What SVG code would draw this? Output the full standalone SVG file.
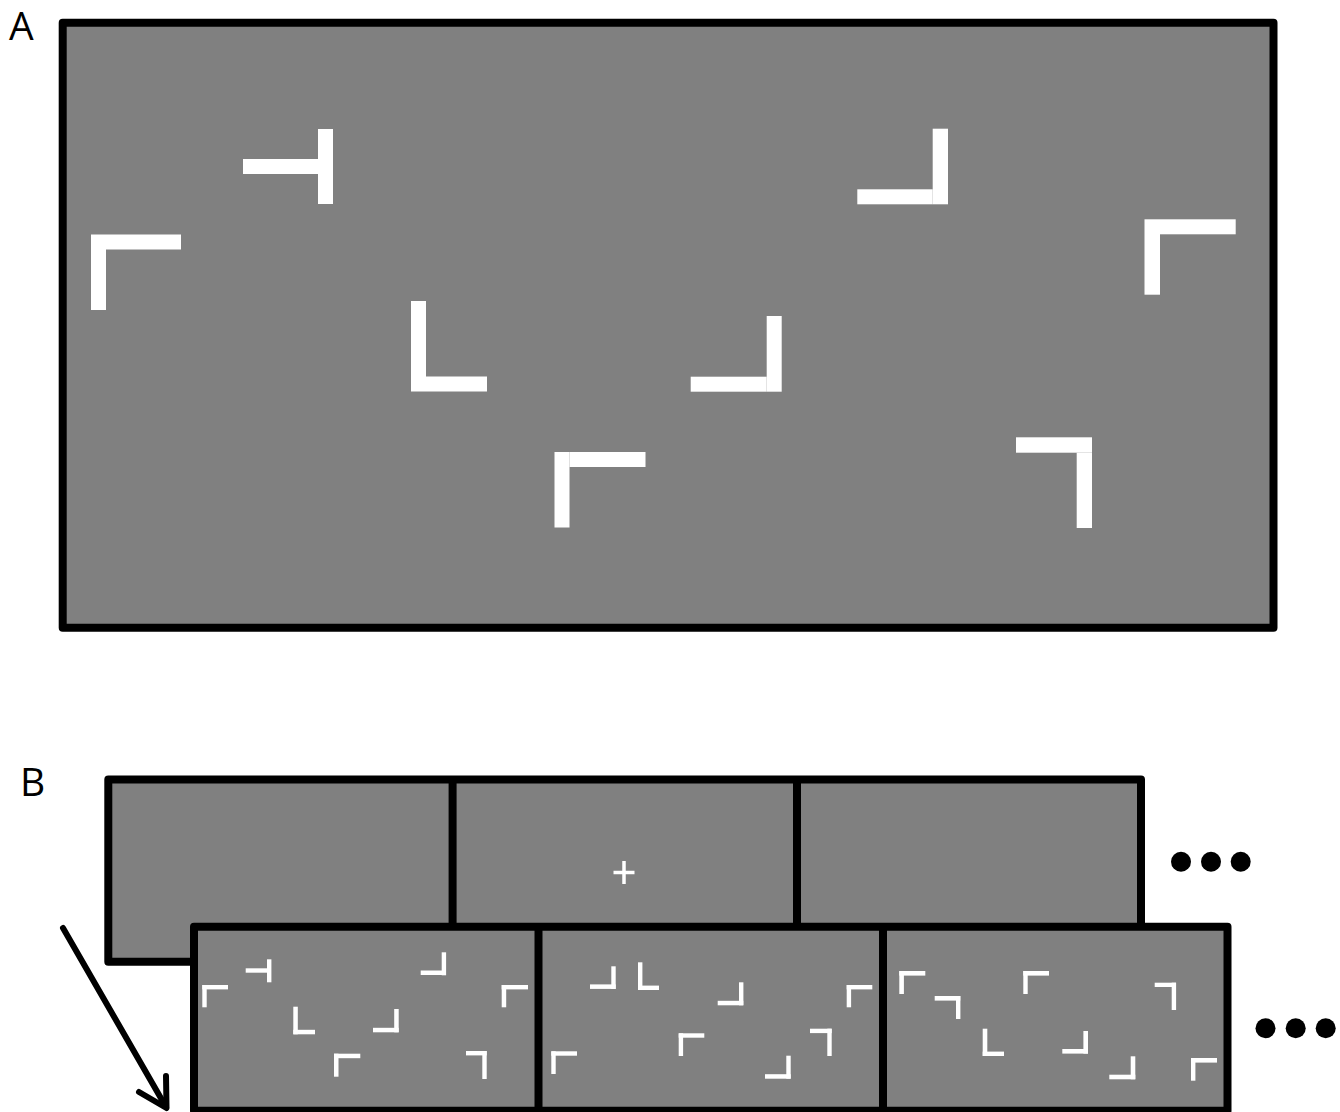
<svg xmlns="http://www.w3.org/2000/svg" width="1340" height="1112" viewBox="0 0 1340 1112">
<style>
.lbl{font-family:"Open Sans","Liberation Sans",sans-serif;font-size:39px;fill:#000}
.scr{fill:#808080;stroke:#000;stroke-width:8;stroke-linejoin:round}
.div{stroke:#000;stroke-width:8}
.w{fill:#fff}
.dot{fill:#000}
</style>
<rect width="1340" height="1112" fill="#fff"/>
<text class="lbl" x="9" y="40">A</text>
<text class="lbl" x="20" y="796">B</text>

<g id="panel-A">
<rect class="scr" x="62.7" y="22.8" width="1210.8" height="604.9"/>
<rect class="w" x="243" y="159" width="75" height="15"/><rect class="w" x="318" y="129" width="15" height="75"/>
<rect class="w" x="91" y="234.5" width="15" height="75.5"/><rect class="w" x="106" y="234.5" width="75" height="15"/>
<rect class="w" x="411" y="301" width="15" height="76"/><rect class="w" x="411" y="376.5" width="76" height="15"/>
<rect class="w" x="690.7" y="376.7" width="76" height="15"/><rect class="w" x="766.7" y="316" width="15" height="75.7"/>
<rect class="w" x="554.5" y="452" width="15" height="75.5"/><rect class="w" x="569.5" y="452" width="76" height="15"/>
<rect class="w" x="857.3" y="189.3" width="75.4" height="15"/><rect class="w" x="932.7" y="128.7" width="15.3" height="75.6"/>
<rect class="w" x="1144.5" y="219.3" width="15.5" height="75.4"/><rect class="w" x="1160" y="219.3" width="75.7" height="15"/>
<rect class="w" x="1016" y="437.3" width="76" height="15.4"/><rect class="w" x="1076.7" y="452.7" width="15.3" height="75.3"/>
</g>

<g id="row-top">
<rect class="scr" x="108.3" y="779.5" width="1032.7" height="182.2"/>
<line class="div" x1="452.6" y1="779.5" x2="452.6" y2="961.7"/>
<line class="div" x1="797" y1="779.5" x2="797" y2="961.7"/>
<g id="fixation" stroke="#fff" stroke-width="3.5">
<line x1="613.5" y1="872.5" x2="634.5" y2="872.5"/>
<line x1="624" y1="861" x2="624" y2="884"/>
</g>
</g>

<g id="dots-top">
<circle class="dot" cx="1181" cy="861.7" r="10"/><circle class="dot" cx="1211" cy="861.7" r="10"/><circle class="dot" cx="1240.7" cy="861.7" r="10"/>
</g>

<g id="row-bottom">
<rect class="scr" x="194" y="926.7" width="1033.5" height="184"/>
<line class="div" x1="538.5" y1="926.7" x2="538.5" y2="1110.7"/>
<line class="div" x1="883" y1="926.7" x2="883" y2="1110.7"/>
<g id="search-1">
<rect class="w" x="245.7" y="968.3" width="21.6" height="4.4"/><rect class="w" x="267" y="959.3" width="4.4" height="23"/>
<rect class="w" x="202.3" y="985" width="4.4" height="22.3"/><rect class="w" x="202.3" y="985" width="25.7" height="4.4"/>
<rect class="w" x="420.7" y="970.5" width="25.3" height="4.5"/><rect class="w" x="441.7" y="952.3" width="4.4" height="23"/>
<rect class="w" x="501.7" y="985" width="4.5" height="22.3"/><rect class="w" x="501.7" y="985" width="26.3" height="4.4"/>
<rect class="w" x="293.3" y="1006.7" width="4.5" height="27.6"/><rect class="w" x="293.3" y="1029.8" width="21.7" height="4.5"/>
<rect class="w" x="373" y="1027.8" width="25.7" height="4.5"/><rect class="w" x="394.2" y="1009" width="4.5" height="23.3"/>
<rect class="w" x="334" y="1053.7" width="4.5" height="23"/><rect class="w" x="334" y="1053.7" width="26.3" height="4.5"/>
<rect class="w" x="466" y="1051" width="20.7" height="4.4"/><rect class="w" x="482.3" y="1051" width="4.4" height="28"/>
</g>
<g id="search-2">
<rect class="w" x="590" y="984.4" width="25.7" height="4.5"/><rect class="w" x="611.3" y="966.3" width="4.4" height="22.7"/>
<rect class="w" x="638" y="962.3" width="4.4" height="27.7"/><rect class="w" x="638" y="985.6" width="21" height="4.4"/>
<rect class="w" x="717.7" y="1000.8" width="25.6" height="4.5"/><rect class="w" x="739" y="982.3" width="4.4" height="23"/>
<rect class="w" x="846.7" y="985" width="4.4" height="22.3"/><rect class="w" x="846.7" y="985" width="25.6" height="4.4"/>
<rect class="w" x="678.7" y="1033.3" width="4.4" height="22.7"/><rect class="w" x="678.7" y="1033.3" width="25.6" height="4.4"/>
<rect class="w" x="810" y="1028.7" width="21.7" height="4.4"/><rect class="w" x="827.3" y="1028.7" width="4.4" height="27.3"/>
<rect class="w" x="551.3" y="1051.3" width="4.4" height="22.7"/><rect class="w" x="551.3" y="1051.3" width="25.7" height="4.4"/>
<rect class="w" x="765" y="1074.2" width="25.7" height="4.5"/><rect class="w" x="786.3" y="1055.7" width="4.4" height="23"/>
</g>
<g id="search-3">
<rect class="w" x="899.3" y="971" width="4.6" height="23"/><rect class="w" x="899.3" y="971" width="26" height="4.6"/>
<rect class="w" x="934.7" y="996" width="25.6" height="4.6"/><rect class="w" x="956" y="996" width="4.4" height="23"/>
<rect class="w" x="1023.3" y="971" width="4.4" height="23"/><rect class="w" x="1023.3" y="971" width="25.7" height="4.6"/>
<rect class="w" x="1154.7" y="982.7" width="21.3" height="4.3"/><rect class="w" x="1171.7" y="982.7" width="4.4" height="27.3"/>
<rect class="w" x="982.7" y="1028.7" width="4.6" height="27.3"/><rect class="w" x="982.7" y="1051.6" width="21.3" height="4.4"/>
<rect class="w" x="1062.3" y="1049" width="25.7" height="4.6"/><rect class="w" x="1083.4" y="1031" width="4.6" height="22.6"/>
<rect class="w" x="1109.3" y="1074.7" width="26" height="4.6"/><rect class="w" x="1130.7" y="1056.3" width="4.6" height="23"/>
<rect class="w" x="1191" y="1058" width="4.4" height="22.7"/><rect class="w" x="1191" y="1058" width="26" height="4.6"/>
</g>
</g>

<g id="dots-bottom">
<circle class="dot" cx="1265.5" cy="1028.3" r="10"/><circle class="dot" cx="1295.7" cy="1028.3" r="10"/><circle class="dot" cx="1325.7" cy="1028.3" r="10"/>
</g>

<g id="connectors" fill="none" stroke="#000" stroke-width="6" stroke-linecap="round" stroke-linejoin="round">
<line x1="63" y1="928" x2="166" y2="1107"/>
<polyline points="139,1092 166.5,1108 166,1076"/>
</g>
</svg>
